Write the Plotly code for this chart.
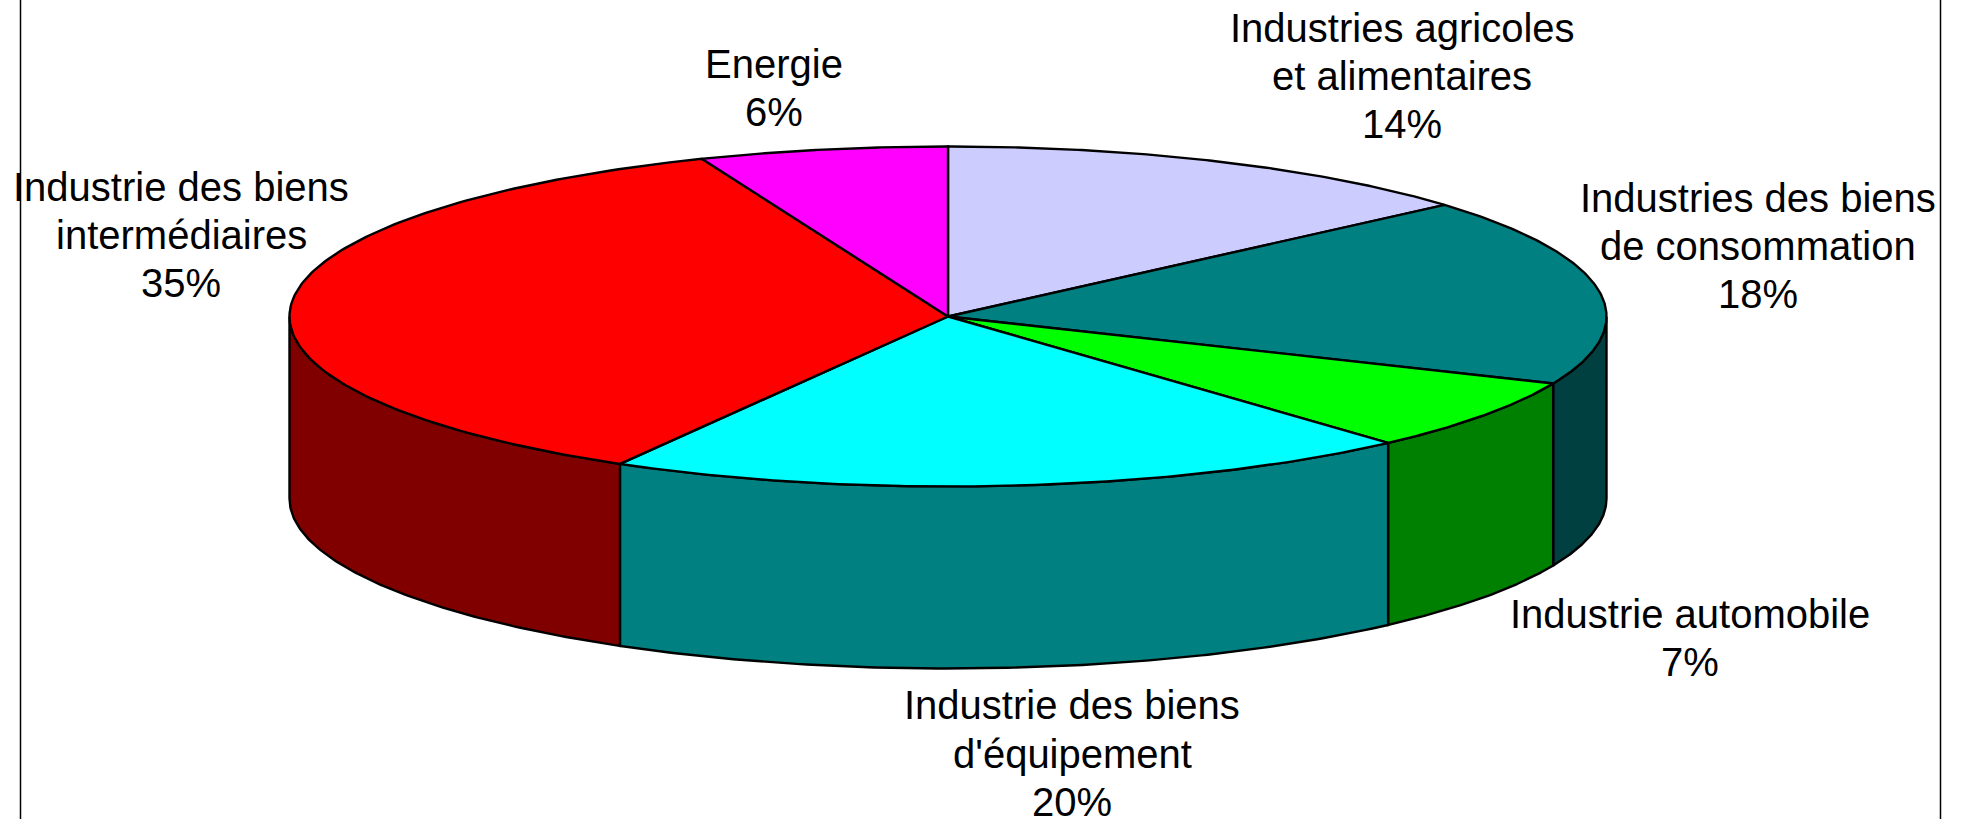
import numpy as np
import plotly.graph_objects as go

# Data
categories = ["Industries agricoles et alimentaires", "Industries des biens de consommation",
              "Industrie automobile", "Industrie des biens d'équipement",
              "Industrie des biens intermédiaires", "Energie"]
shares = [13.6, 17.85, 6.9, 19.95, 35.6, 6.1]
share_labels = ["14%", "18%", "7%", "20%", "35%", "6%"]
label_lines = [["Industries agricoles", "et alimentaires"],
               ["Industries des biens", "de consommation"],
               ["Industrie automobile"],
               ["Industrie des biens", "d'équipement"],
               ["Industrie des biens", "intermédiaires"],
               ["Energie"]]
top_colors = ["#CCCCFF", "#008080", "#00FF00", "#00FFFF", "#FF0000", "#FF00FF"]
side_colors = ["#666680", "#004040", "#008000", "#008080", "#800000", "#800080"]

# Layout geometry (pixel-like axis units)
W, H = 1961, 819
cx, cy, rx, ry, depth = 948, 316.5, 658.5, 170, 182
label_x = [1402, 1757.5, 1689.5, 1072, 181, 774.4]
label_y = [27.5, 197.5, 614, 705.3, 187, 63.5]
pitch = 48.2
font = dict(family="Liberation Sans, Arial, sans-serif", size=40, color="black")
line = dict(color="black", width=2.4)

edges = np.cumsum([0] + shares) / sum(shares) * 2 * np.pi


def ex(t):
    return cx + rx * np.sin(t)


def ey(t):
    return cy - ry * np.cos(t)


fig = go.Figure()

# Side walls: only the front half of the rim is visible
for i in range(len(shares)):
    a, b = max(edges[i], np.pi / 2), min(edges[i + 1], 3 * np.pi / 2)
    if b <= a:
        continue
    t = np.linspace(a, b, 120)
    xs = np.r_[ex(t), ex(t[::-1]), ex(t[0])]
    ys = np.r_[ey(t), ey(t[::-1]) + depth, ey(t[0])]
    fig.add_trace(go.Scatter(x=xs, y=ys, mode="lines", fill="toself", fillcolor=side_colors[i],
                             line=line, hoverinfo="skip", showlegend=False))

# Top face
for i in range(len(shares)):
    t = np.linspace(edges[i], edges[i + 1], 160)
    xs = np.r_[cx, ex(t), cx]
    ys = np.r_[cy, ey(t), cy]
    fig.add_trace(go.Scatter(x=xs, y=ys, mode="lines", fill="toself", fillcolor=top_colors[i],
                             line=line, name=categories[i], text=categories[i],
                             hoverinfo="text", showlegend=False))

# Labels, one annotation per line to control the line pitch
for i, lines in enumerate(label_lines):
    for j, txt in enumerate(lines + [share_labels[i]]):
        fig.add_annotation(x=label_x[i], y=label_y[i] + j * pitch, text=txt, showarrow=False,
                           xanchor="center", yanchor="middle", font=font)

# Chart frame sides
for xb in (20.5, 1940.5):
    fig.add_shape(type="line", x0=xb, x1=xb, y0=0, y1=H, line=dict(color="black", width=1.5), layer="below")

fig.update_layout(width=W, height=H, margin=dict(l=0, r=0, t=0, b=0), autosize=False,
                  paper_bgcolor="white", plot_bgcolor="white",
                  xaxis=dict(range=[0, W], visible=False, fixedrange=True),
                  yaxis=dict(range=[H, 0], visible=False, fixedrange=True))
fig.write_html("out.html", config={"displayModeBar": False},
               post_script="document.body.style.margin='0';document.body.style.overflow='hidden';")
